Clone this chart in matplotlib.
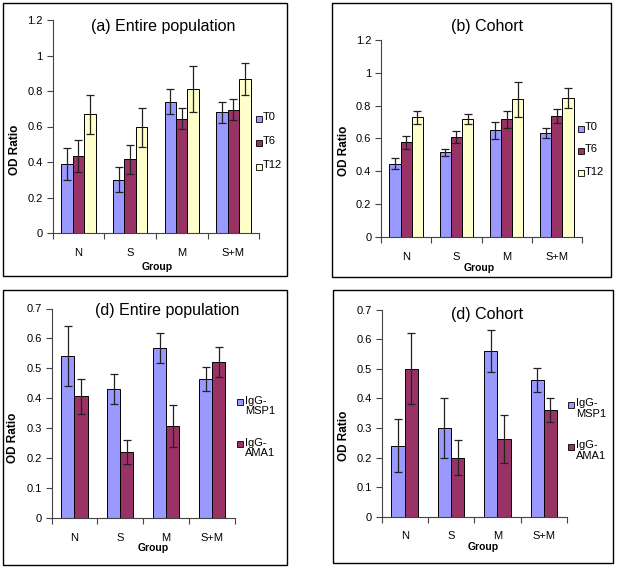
import matplotlib
matplotlib.use('Agg')
import matplotlib.pyplot as plt
from matplotlib.patches import Rectangle
import numpy as np

plt.rcParams['font.family'] = ['Liberation Sans', 'DejaVu Sans']

W, H = 617, 568

groups = ['N', 'S', 'M', 'S+M']

# (a) entire population
ent_t0 = [0.39, 0.30, 0.74, 0.68]
ent_t6 = [0.435, 0.415, 0.645, 0.695]
ent_t12 = [0.67, 0.595, 0.81, 0.865]
ent_t0_err = [0.09, 0.07, 0.07, 0.06]
ent_t6_err = [0.09, 0.08, 0.06, 0.06]
ent_t12_err = [0.11, 0.11, 0.13, 0.09]

# (b) cohort
coh_t0 = [0.447, 0.515, 0.65, 0.635]
coh_t6 = [0.578, 0.61, 0.716, 0.737]
coh_t12 = [0.728, 0.717, 0.838, 0.847]
coh_t0_err = [0.033, 0.02, 0.053, 0.03]
coh_t6_err = [0.04, 0.035, 0.049, 0.04]
coh_t12_err = [0.042, 0.03, 0.105, 0.06]

# (d) entire population, IgG
ent_msp1 = [0.54, 0.43, 0.568, 0.466]
ent_ama1 = [0.406, 0.221, 0.306, 0.522]
ent_msp1_err = [0.10, 0.05, 0.05, 0.04]
ent_ama1_err = [0.06, 0.04, 0.07, 0.05]

# (d) cohort, IgG
coh_msp1 = [0.24, 0.30, 0.56, 0.461]
coh_ama1 = [0.50, 0.20, 0.262, 0.361]
coh_msp1_err = [0.09, 0.10, 0.07, 0.04]
coh_ama1_err = [0.12, 0.06, 0.08, 0.04]

time_labels = ['T0', 'T6', 'T12']
igg_labels = ['IgG-\nMSP1', 'IgG-\nAMA1']
c_blue, c_red, c_yel = '#9999FF', '#993366', '#FFFFCC'

fig = plt.figure(figsize=(W / 100, H / 100), dpi=100)


def fx(x):
    return x / W


def fy(y):
    return 1 - y / H


def panel(box, rect, series, errs, colors, ymax, ystep, title, tpos, gpos, opos):
    # outer border
    fig.patches.append(Rectangle((fx(box[0]), fy(box[3])), fx(box[2] - box[0]), (box[3] - box[1]) / H,
                                 transform=fig.transFigure, fill=False, lw=1.0, ec='black'))
    l, t, r, b = rect
    ax = fig.add_axes([fx(l), fy(b), (r - l) / W, (b - t) / H])
    n = len(series)
    w = 1.0 / (n + 1.5)
    x = np.arange(len(groups))
    for i, (vals, err, col) in enumerate(zip(series, errs, colors)):
        ax.bar(x + (i - (n - 1) / 2) * w, vals, w, color=col, edgecolor='black', lw=0.7,
               yerr=err, error_kw=dict(ecolor='#222222', elinewidth=0.9, capsize=2.6, capthick=0.9))
    ax.set_xlim(-0.5, len(groups) - 0.5)
    ax.set_ylim(0, ymax)
    yt = np.round(np.arange(0, ymax + ystep / 2, ystep), 2)
    ax.set_yticks(yt)
    ax.set_yticklabels(['%g' % v for v in yt])
    ax.set_xticks(np.arange(len(groups) + 1) - 0.5)
    ax.set_xticklabels([])
    ax.set_xticks(x, minor=True)
    ax.set_xticklabels(groups, minor=True)
    ax.tick_params(axis='x', which='minor', length=0, pad=10.5, labelsize=8)
    ax.tick_params(axis='x', which='major', length=4, width=0.8, color='#444444', direction='out')
    ax.tick_params(axis='y', length=4, width=0.8, color='#444444', direction='out', pad=3, labelsize=8)
    for s in ['top', 'right']:
        ax.spines[s].set_visible(False)
    for s in ['left', 'bottom']:
        ax.spines[s].set_color('#444444')
        ax.spines[s].set_linewidth(0.8)
    ax.patch.set_alpha(0)
    fig.text(fx(tpos[0]), fy(tpos[1]), title, ha='center', va='center', fontsize=11.5)
    fig.text(fx(gpos[0]), fy(gpos[1]), 'Group', ha='center', va='center', fontsize=7.5, fontweight='bold')
    fig.text(fx(opos[0]), fy(opos[1]), 'OD Ratio', ha='center', va='center', fontsize=8.5,
             fontweight='bold', rotation=90)
    return ax


def legend(labels, colors, mx, tx, rows):
    for lab, col, ry in zip(labels, colors, rows):
        fig.patches.append(Rectangle((fx(mx - 3), fy(ry + 3)), 6 / W, 6 / H, transform=fig.transFigure,
                                     fc=col, ec='black', lw=0.6))
        fig.text(fx(tx), fy(ry - 6.5), lab, ha='left', va='top', fontsize=8, linespacing=1.1)


panel((3, 3, 287, 276), (52.5, 20, 259.3, 233), [ent_t0, ent_t6, ent_t12],
      [ent_t0_err, ent_t6_err, ent_t12_err], [c_blue, c_red, c_yel], 1.2, 0.2,
      '(a) Entire population', (163, 27), (157, 267), (15, 150))
legend(time_labels, [c_blue, c_red, c_yel], 258.5, 263, [119, 143, 167])

panel((332, 3, 611, 277), (381, 40, 582, 237), [coh_t0, coh_t6, coh_t12],
      [coh_t0_err, coh_t6_err, coh_t12_err], [c_blue, c_red, c_yel], 1.2, 0.2,
      '(b) Cohort', (487, 27), (479, 268), (344, 151))
legend(time_labels, [c_blue, c_red, c_yel], 580.5, 585, [129, 151, 173])

panel((3, 290, 287, 565), (51.5, 308.5, 235, 518), [ent_msp1, ent_ama1],
      [ent_msp1_err, ent_ama1_err], [c_blue, c_red], 0.7, 0.1,
      '(d) Entire population', (167, 311), (153, 548), (13, 438))
legend(igg_labels, [c_blue, c_red], 240.5, 245, [402, 444])

panel((333, 290, 613, 563), (381.5, 309.5, 567, 516.7), [coh_msp1, coh_ama1],
      [coh_msp1_err, coh_ama1_err], [c_blue, c_red], 0.7, 0.1,
      '(d) Cohort', (487, 315), (483, 547), (344, 436))
legend(igg_labels, [c_blue, c_red], 571, 576, [405, 447])

fig.savefig('out.png', dpi=100, facecolor='white')
